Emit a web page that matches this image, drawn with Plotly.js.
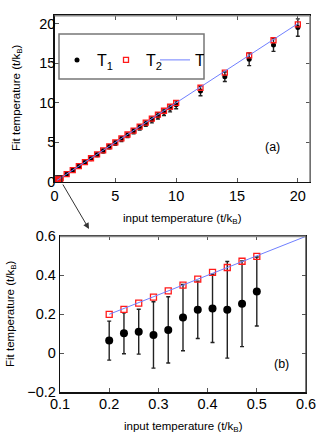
<!DOCTYPE html>
<html>
<head>
<meta charset="utf-8">
<script src="https://cdn.plot.ly/plotly-3.0.1.min.js"></script>
<style>html,body{margin:0;padding:0;background:#fff;}#chart{width:327px;height:440px;}</style>
</head>
<body>
<div id="chart"></div>
<script>
// input temperatures (t/kB)
const inputT = [0.2, 0.23, 0.26, 0.29, 0.32, 0.35, 0.38, 0.41, 0.44, 0.47, 0.5,
  1, 1.5, 2, 2.5, 3, 3.5, 4, 4.5, 5, 5.5, 6, 6.5, 7, 7.5, 8, 8.5, 9, 9.5, 10,
  12, 14, 16, 18, 20];
// fitted T1 (black dots) and its error
const fitT1 = [0.065, 0.103, 0.111, 0.094, 0.12, 0.183, 0.223, 0.23, 0.223, 0.254, 0.317,
  0.97, 1.47, 1.96, 2.45, 2.95, 3.44, 3.93, 4.45, 4.93, 5.42, 5.9, 6.4, 6.9, 7.37, 7.85, 8.35, 8.8, 9.3, 9.75,
  11.5, 13.3, 15.5, 17.3, 19.5];
const errT1 = [0.1, 0.105, 0.115, 0.17, 0.17, 0.17, 0.147, 0.175, 0.248, 0.22, 0.177,
  0.15, 0.15, 0.18, 0.2, 0.2, 0.22, 0.25, 0.25, 0.28, 0.3, 0.3, 0.32, 0.35, 0.35, 0.38, 0.4, 0.42, 0.45, 0.5,
  0.6, 0.6, 0.8, 0.8, 1.1];
// fitted T2 (red squares)
const fitT2 = [0.2, 0.225, 0.257, 0.288, 0.32, 0.35, 0.38, 0.415, 0.44, 0.472, 0.497,
  1.0, 1.5, 2.0, 2.5, 3.0, 3.5, 4.0, 4.5, 5.0, 5.5, 6.0, 6.5, 7.0, 7.5, 8.0, 8.5, 9.0, 9.5, 10.0,
  11.9, 13.8, 16.0, 17.9, 19.9];
// exact temperature line T
const lineT = inputT;

const FONT = 'Liberation Sans, Arial, Helvetica, sans-serif';
const W = 327, H = 440;
const px = v => v / W, py = v => 1 - v / H;

function traces(xa, ya, dot, sq, showLeg) {
  return [
    {x: inputT, y: fitT1, xaxis: xa, yaxis: ya, type: 'scatter', mode: 'markers', name: 'T<sub>1</sub>',
     showlegend: showLeg, legendgroup: 'a',
     marker: {color: '#000', size: dot, symbol: 'circle'},
     error_y: {type: 'data', array: errT1, visible: true, color: '#222', thickness: 1.4, width: 2}},
    {x: inputT, y: fitT2, xaxis: xa, yaxis: ya, type: 'scatter', mode: 'markers', name: 'T<sub>2</sub>',
     showlegend: showLeg, legendgroup: 'b',
     marker: {color: '#ff1a1a', size: sq, symbol: 'square-open', line: {color: '#ff1a1a', width: 1.3}}},
    {x: inputT, y: lineT, xaxis: xa, yaxis: ya, type: 'scatter', mode: 'lines', name: 'T',
     showlegend: showLeg, legendgroup: 'c',
     line: {color: '#6f7fff', width: 1}}
  ];
}

const data = traces('x', 'y', 5, 5, true).concat(traces('x2', 'y2', 8, 6, false));

const axBase = {
  ticks: 'inside', ticklen: 4, tickcolor: '#555', showline: true, linecolor: '#111', linewidth: 1.3,
  mirror: 'ticks', showgrid: false, zeroline: false,
  tickfont: {family: FONT, size: 14.5, color: '#000'}
};

const layout = {
  width: W, height: H,
  margin: {l: 0, r: 0, t: 0, b: 0},
  paper_bgcolor: '#fff', plot_bgcolor: '#fff',
  font: {family: FONT, color: '#000'},
  showlegend: true,
  legend: {orientation: 'h', x: px(57), y: py(60), xanchor: 'left', yanchor: 'middle',
    bgcolor: 'rgba(0,0,0,0)', borderwidth: 0, font: {family: FONT, size: 16, color: '#000'},
    entrywidth: 4, entrywidthmode: 'pixels', itemwidth: 30},
  xaxis: Object.assign({}, axBase, {domain: [px(54.5), px(310)], range: [0, 21], tickvals: [0, 5, 10, 15, 20], anchor: 'y'}),
  yaxis: Object.assign({}, axBase, {domain: [py(182), py(15.7)], range: [0, 21], tickvals: [0, 5, 10, 15, 20], anchor: 'x', ticklabelstandoff: -5}),
  xaxis2: Object.assign({}, axBase, {domain: [px(60), px(306)], range: [0.1, 0.6], tickvals: [0.1, 0.2, 0.3, 0.4, 0.5, 0.6], ticktext: ['0.1','0.2','0.3','0.4','0.5','0.6'], anchor: 'y2', ticklabelstandoff: -2}),
  yaxis2: Object.assign({}, axBase, {domain: [py(392.3), py(236.3)], range: [-0.2, 0.6], tickvals: [-0.2, 0, 0.2, 0.4, 0.6], ticktext: ['\u22120.2','0','0.2','0.4','0.6'], anchor: 'x2'}),
  shapes: [
    // gray top/right frame lines
    {type: 'line', xref: 'x domain', yref: 'y domain', x0: 0, x1: 1, y0: 1, y1: 1, line: {color: '#8a8a8a', width: 1.6}, layer: 'above'},
    {type: 'line', xref: 'x domain', yref: 'y domain', x0: 1, x1: 1, y0: 0, y1: 1, line: {color: '#8a8a8a', width: 1.6}, layer: 'above'},
    {type: 'line', xref: 'x2 domain', yref: 'y2 domain', x0: 0, x1: 1, y0: 1, y1: 1, line: {color: '#8a8a8a', width: 1.8}, layer: 'above'},
    {type: 'line', xref: 'x2 domain', yref: 'y2 domain', x0: 1, x1: 1, y0: 0, y1: 1, line: {color: '#444', width: 1.4}, layer: 'above'},
    // legend frame
    {type: 'rect', xref: 'paper', yref: 'paper', x0: px(59), x1: px(204), y0: py(79), y1: py(34), line: {color: '#777', width: 1.5}, fillcolor: 'rgba(255,255,255,0)'},
    // zoom region box in (a)
    {type: 'rect', xref: 'x', yref: 'y', x0: 0, x1: 0.6, y0: -0.2, y1: 0.8, line: {color: '#222', width: 1}, layer: 'above'}
  ],
  annotations: [
    {xref: 'paper', yref: 'paper', x: px(89), y: py(229), ax: -27, ay: -46, axref: 'pixel', ayref: 'pixel',
     text: '', showarrow: true, arrowhead: 2, arrowsize: 1.2, arrowwidth: 1, arrowcolor: '#333'},
    {xref: 'paper', yref: 'paper', x: px(272), y: py(146.5), xanchor: 'center', yanchor: 'middle', text: '(a)', showarrow: false, font: {family: FONT, size: 12.5}},
    {xref: 'paper', yref: 'paper', x: px(281), y: py(364), xanchor: 'center', yanchor: 'middle', text: '(b)', showarrow: false, font: {family: FONT, size: 12.5}},
    {xref: 'paper', yref: 'paper', x: px(182), y: py(219), xanchor: 'center', yanchor: 'middle', text: 'input temperature (t/k<sub>B</sub>)', showarrow: false, font: {family: FONT, size: 11.5}},
    {xref: 'paper', yref: 'paper', x: px(183), y: py(427), xanchor: 'center', yanchor: 'middle', text: 'input temperature (t/k<sub>B</sub>)', showarrow: false, font: {family: FONT, size: 11.5}},
    {xref: 'paper', yref: 'paper', x: px(17), y: py(98), xanchor: 'center', yanchor: 'middle', text: 'Fit temperature (t/k<sub>B</sub>)', textangle: -90, showarrow: false, font: {family: FONT, size: 11.5}},
    {xref: 'paper', yref: 'paper', x: px(11), y: py(314), xanchor: 'center', yanchor: 'middle', text: 'Fit temperature (t/k<sub>B</sub>)', textangle: -90, showarrow: false, font: {family: FONT, size: 11.5}}
  ]
};

Plotly.newPlot('chart', data, layout, {staticPlot: true, displayModeBar: false});
</script>
</body>
</html>
